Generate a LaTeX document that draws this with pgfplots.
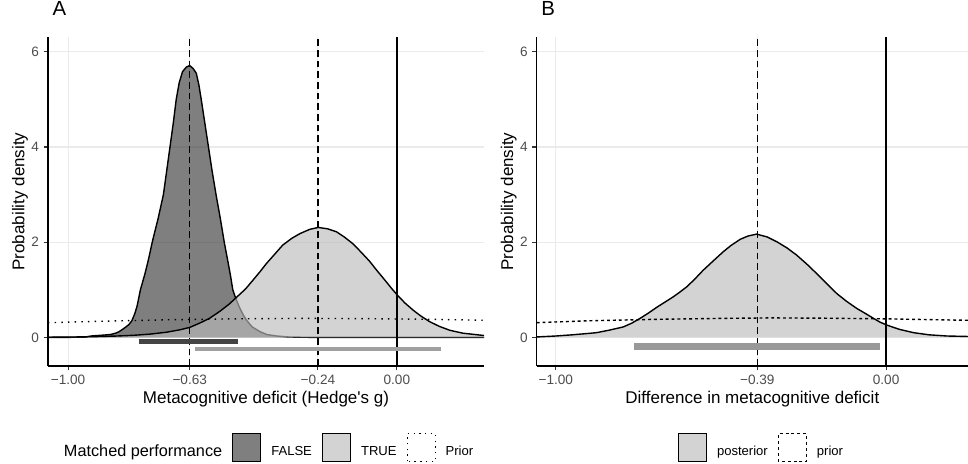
\documentclass[border=0pt]{standalone}
\usepackage{fontspec}
\setmainfont{Liberation Sans}
\usepackage{pgfplots}
\pgfplotsset{compat=1.18}
\usepackage{pgfplotstable}

\definecolor{gridc}{HTML}{EBEBEB}
\definecolor{tickc}{HTML}{333333}
\definecolor{labc}{HTML}{4D4D4D}
\definecolor{fillF}{HTML}{3A3A3A}
\definecolor{fillT}{HTML}{BBBBBB}
\definecolor{keyF}{HTML}{7F7F7F}
\definecolor{keyT}{HTML}{D3D3D3}
\definecolor{barF}{HTML}{444444}
\definecolor{barT}{HTML}{A0A0A0}
\definecolor{barB}{HTML}{999999}

\newcommand\ticksize{\fontsize{10.2}{12}\selectfont}
\newcommand\labsize{\fontsize{12.75}{15}\selectfont}

% posterior, matched performance = FALSE
\pgfplotstableread{
x y
-1.061 0.000
-1.000 0.002
-0.950 0.006
-0.930 0.030
-0.900 0.045
-0.872 0.060
-0.855 0.090
-0.845 0.120
-0.828 0.200
-0.815 0.270
-0.806 0.350
-0.797 0.500
-0.790 0.660
-0.780 1.000
-0.766 1.340
-0.755 1.650
-0.744 2.000
-0.726 2.500
-0.710 3.000
-0.700 3.500
-0.690 4.000
-0.680 4.500
-0.671 5.000
-0.662 5.350
-0.652 5.580
-0.640 5.680
-0.630 5.710
-0.620 5.650
-0.610 5.550
-0.602 5.300
-0.595 5.000
-0.584 4.500
-0.573 4.000
-0.562 3.500
-0.550 3.000
-0.537 2.500
-0.525 2.000
-0.514 1.600
-0.506 1.300
-0.499 1.000
-0.490 0.820
-0.478 0.620
-0.467 0.470
-0.457 0.360
-0.440 0.220
-0.416 0.120
-0.395 0.060
-0.366 0.030
-0.330 0.010
-0.280 0.003
-0.200 0.001
0.265 0.000
}\falsetab

% posterior, matched performance = TRUE
\pgfplotstableread{
x y
-1.061 0.004
-1.000 0.008
-0.950 0.012
-0.900 0.020
-0.850 0.030
-0.800 0.045
-0.750 0.070
-0.700 0.110
-0.660 0.160
-0.630 0.210
-0.600 0.300
-0.570 0.400
-0.538 0.550
-0.510 0.700
-0.488 0.840
-0.460 1.020
-0.438 1.200
-0.415 1.390
-0.397 1.550
-0.370 1.760
-0.347 1.940
-0.320 2.080
-0.295 2.180
-0.265 2.270
-0.239 2.310
-0.210 2.280
-0.184 2.220
-0.160 2.110
-0.134 1.970
-0.110 1.800
-0.083 1.600
-0.060 1.400
-0.036 1.200
-0.015 1.020
0.004 0.870
0.025 0.720
0.050 0.570
0.075 0.440
0.100 0.330
0.130 0.230
0.161 0.150
0.200 0.090
0.265 0.040
}\truetab

% prior, panel A
\pgfplotstableread{
x y
-1.061 0.310
-0.900 0.340
-0.700 0.370
-0.500 0.390
-0.300 0.400
-0.100 0.395
0.100 0.380
0.265 0.360
}\priorA

% posterior of the difference, panel B
\pgfplotstableread{
x y
-1.058 0.010
-1.000 0.030
-0.950 0.055
-0.900 0.085
-0.877 0.100
-0.840 0.150
-0.796 0.220
-0.770 0.300
-0.745 0.400
-0.720 0.510
-0.695 0.630
-0.670 0.740
-0.645 0.850
-0.625 0.950
-0.604 1.060
-0.580 1.220
-0.554 1.410
-0.523 1.610
-0.493 1.800
-0.470 1.930
-0.442 2.060
-0.418 2.130
-0.392 2.170
-0.360 2.110
-0.331 2.010
-0.300 1.880
-0.271 1.730
-0.240 1.540
-0.210 1.340
-0.180 1.130
-0.149 0.920
-0.120 0.760
-0.089 0.610
-0.062 0.500
-0.038 0.400
-0.018 0.320
0.002 0.260
0.040 0.170
0.083 0.100
0.130 0.055
0.184 0.030
0.248 0.020
}\diffpost

% prior, panel B
\pgfplotstableread{
x y
-1.058 0.310
-0.900 0.350
-0.700 0.380
-0.500 0.400
-0.350 0.410
-0.200 0.405
0.000 0.390
0.248 0.360
}\priorB

\pgfplotsset{
  panel/.style={
    scale only axis,
    height=246.75pt,
    ymin=-0.6, ymax=6.31,
    ytick={0,2,4,6},
    axis x line*=bottom, axis y line*=left,
    axis line style={black, line width=0.9pt},
    tick align=outside, major tick length=3.2pt,
    tick style={tickc, line width=0.8pt},
    grid=major, major grid style={gridc, line width=0.8pt},
    ticklabel style={font=\ticksize, text=labc},
    /pgf/number format/assume math mode=true,
    label style={font=\labsize},
    xlabel style={at={(axis description cs:0.5,-0.1155)}, anchor=base},
    title style={at={(axis description cs:0,1)}, anchor=base west,
      yshift=9.75pt, font=\fontsize{15.3}{18}\selectfont},
    legend style={draw=none, fill=none, legend columns=-1,
      font=\fontsize{9.8}{12}\selectfont,
      /tikz/every odd column/.append style={column sep=5.5pt},
      /tikz/every even column/.append style={column sep=5.5pt}},
  },
  sqkey/.style={legend image code/.code={
      \draw[##1] (0pt,-7.2pt) rectangle (21pt,13.8pt);}},
  dens/.style={black, line width=1.05pt},
  vdash/.style={black, line width=1.1pt, dash pattern=on 5pt off 3pt},
  vsolid/.style={black, line width=1.05pt},
}

\begin{document}
\begin{tikzpicture}
\useasboundingbox (0,0) rectangle (726pt,348pt);

% ---------------- panel A ----------------
\begin{axis}[panel,
  at={(36pt,73.5pt)}, anchor=south west, width=327pt,
  xmin=-1.061, xmax=0.265,
  xtick={-1,-0.63,-0.24,0},
  xticklabels={−1.00,−0.63,−0.24,0.00},
  title={A},
  xlabel={Metacognitive deficit (Hedge\textquotesingle s g)},
  ylabel={Probability density},
  ylabel style={at={(axis description cs:-0.0642,0.5)}, anchor=center},
  legend style={at={(axis description cs:0.506,-0.2477)}, anchor=center},
]
\addplot[draw=none, fill=fillF, fill opacity=0.65, forget plot] table[x=x,y=y] {\falsetab} \closedcycle;
\addplot[dens, forget plot] table[x=x,y=y] {\falsetab};
\addplot[draw=none, fill=fillT, fill opacity=0.65, forget plot] table[x=x,y=y] {\truetab} \closedcycle;
\addplot[dens, forget plot] table[x=x,y=y] {\truetab};
\addplot[black, line width=1.05pt, dash pattern=on 1.1pt off 3.9pt, forget plot] table[x=x,y=y] {\priorA};

\addplot[vdash, forget plot] coordinates {(-0.63,-0.6) (-0.63,6.31)};
\addplot[vdash, forget plot] coordinates {(-0.24,-0.6) (-0.24,6.31)};
\addplot[vsolid, forget plot] coordinates {(0,-0.6) (0,6.31)};

% 95% intervals
\addplot[barF, line width=3.6pt, forget plot] coordinates {(-0.784,-0.085) (-0.483,-0.085)};
\addplot[barT, line width=3.1pt, forget plot] coordinates {(-0.614,-0.245) (0.134,-0.245)};

\addlegendimage{empty legend}
\addlegendentry{\hspace{-5.5pt}\fontsize{12.2}{15}\selectfont Matched performance}
\addlegendimage{sqkey, draw=black, line width=0.8pt, fill=keyF}
\addlegendentry{FALSE}
\addlegendimage{sqkey, draw=black, line width=0.8pt, fill=keyT}
\addlegendentry{TRUE}
\addlegendimage{sqkey, draw=black, line width=0.8pt, fill=white, dash pattern=on 1.1pt off 3.2pt}
\addlegendentry{Prior}
\end{axis}

% ---------------- panel B ----------------
\begin{axis}[panel,
  at={(402.5pt,73.5pt)}, anchor=south west, width=323.5pt,
  xmin=-1.058, xmax=0.248,
  xtick={-1,-0.39,0},
  xticklabels={−1.00,−0.39,0.00},
  title={B},
  xlabel={Difference in metacognitive deficit},
  ylabel={Probability density},
  ylabel style={at={(axis description cs:-0.0649,0.5)}, anchor=center},
  legend style={at={(axis description cs:0.522,-0.2477)}, anchor=center},
]
\addplot[draw=none, fill=fillT, fill opacity=0.65, forget plot] table[x=x,y=y] {\diffpost} \closedcycle;
\addplot[dens, forget plot] table[x=x,y=y] {\diffpost};
\addplot[black, line width=1.05pt, dash pattern=on 2.2pt off 2.2pt, forget plot] table[x=x,y=y] {\priorB};

\addplot[vdash, forget plot] coordinates {(-0.39,-0.6) (-0.39,6.31)};
\addplot[vsolid, forget plot] coordinates {(0,-0.6) (0,6.31)};

\addplot[barB, line width=5pt, forget plot] coordinates {(-0.764,-0.197) (-0.018,-0.197)};

\addlegendimage{sqkey, draw=black, line width=0.8pt, fill=keyT}
\addlegendentry{posterior}
\addlegendimage{sqkey, draw=black, line width=0.8pt, fill=white, dash pattern=on 2.2pt off 2.2pt}
\addlegendentry{prior}
\end{axis}
\end{tikzpicture}
\end{document}
